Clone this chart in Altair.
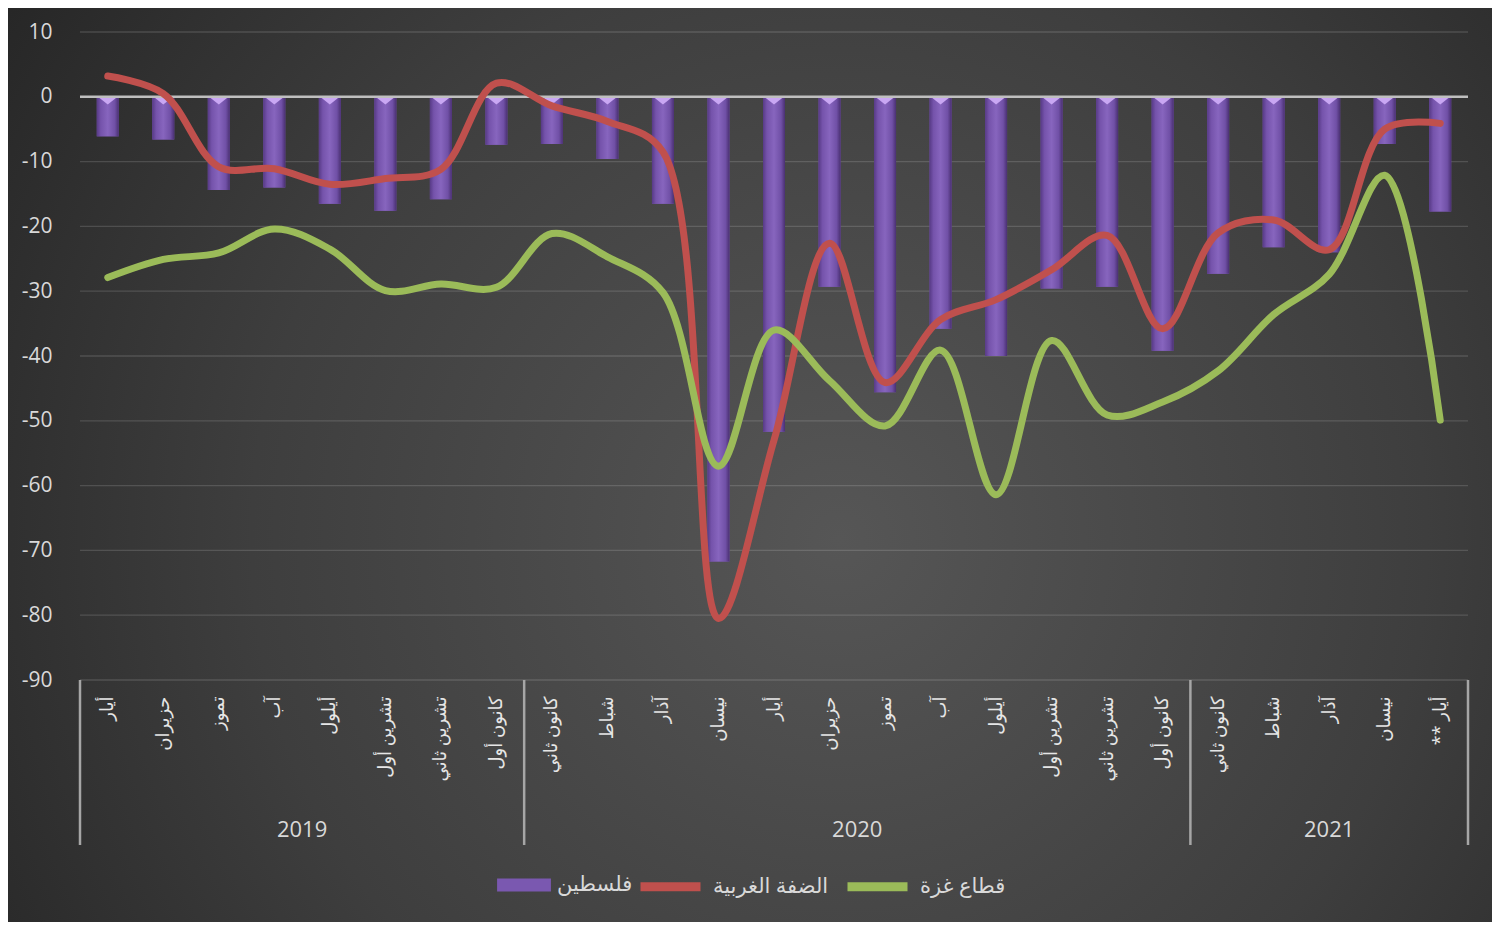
import json
import altair as alt
import pandas as pd

# ---------------- data ----------------
months = ["أيار", "حزيران", "تموز", "آب", "أيلول", "تشرين أول", "تشرين ثاني", "كانون أول",
          "كانون ثاني", "شباط", "آذار", "نيسان", "أيار", "حزيران", "تموز", "آب", "أيلول",
          "تشرين أول", "تشرين ثاني", "كانون أول",
          "كانون ثاني", "شباط", "آذار", "نيسان", "أيار **\u200f"]
years = ["2019", "2020", "2021"]
year_counts = [8, 12, 5]

palestine = [-6.1, -6.6, -14.4, -14.0, -16.5, -17.6, -15.8, -7.4,
             -7.3, -9.6, -16.5, -71.7, -51.7, -29.3, -45.6, -35.8, -40.0, -29.6, -29.3, -39.2,
             -27.3, -23.2, -24.0, -7.3, -17.7]
west_bank = [3.2, 0.5, -10.8, -11.1, -13.5, -12.6, -11.2, 2.1,
             -1.4, -3.8, -8.5, -80.5, -53.0, -22.6, -44.1, -34.4, -31.3, -26.7, -21.4, -35.8,
             -21.0, -19.0, -23.6, -5.0, -4.1]
gaza = [-27.9, -25.1, -24.1, -20.4, -23.5, -29.9, -28.9, -29.4,
        -21.1, -24.7, -30.2, -57.0, -36.0, -43.8, -50.8, -39.1, -61.4, -37.6, -49.1, -47.1,
        -42.3, -33.6, -27.4, -12.1, -49.9]

name_pal = "فلسطين"
name_wb = "الضفة الغربية"
name_gz = "قطاع غزة"

y_ticks = list(range(-90, 11, 10))

# ---------------- tables ----------------
n = len(months)
idx = list(range(n))
bars_df = pd.DataFrame({"idx": idx, "pal": palestine, "s": [name_pal] * n})
lines_df = pd.DataFrame({
    "idx": idx + idx,
    "v": west_bank + gaza,
    "series": [name_wb] * n + [name_gz] * n,
})

bounds = [-0.5]
centers = []
start = 0
for c in year_counts:
    centers.append(start + (c - 1) / 2)
    start += c
    bounds.append(start - 0.5)
sep_df = pd.DataFrame({"idx": bounds})
year_df = pd.DataFrame({"idx": centers, "year": years})
grid_df = pd.DataFrame({"t": y_ticks})

FONT = "Open Sans, DejaVu Sans, sans-serif"
TXT = "#d9d9d9"

label_expr = "[" + ",".join(json.dumps(m, ensure_ascii=False) for m in months) + "][datum.value]"

xscale = alt.Scale(domain=[-0.5, n - 0.5], nice=False, zero=False, padding=0)
yscale = alt.Scale(domain=[-90, 10], nice=False, padding=0)

x_axis = alt.Axis(values=idx, labelExpr=label_expr, labelAngle=270, labelAlign="right",
                  labelBaseline="middle", labelFontSize=18, labelColor="#e6e6e6",
                  labelFont=FONT, labelPadding=16, domain=False, ticks=False, grid=False,
                  title=None, labelOverlap=False, labelFlush=False, labelLimit=300, zindex=1)
y_axis = alt.Axis(values=y_ticks, labelExpr="'' + datum.value", grid=False, domain=False,
                  ticks=False, labelFontSize=21, labelColor=TXT, labelFont=FONT,
                  labelPadding=28, title=None, zindex=1, labelFlush=False)


def X(field):
    return alt.X(field, scale=xscale, axis=x_axis, title=None)


def Y(field):
    return alt.Y(field, scale=yscale, axis=y_axis, title=None)


bg_grad = {"gradient": "radial", "x1": 0.56, "y1": 0.55, "r1": 0,
           "x2": 0.56, "y2": 0.55, "r2": 0.72,
           "stops": [{"offset": 0, "color": "#565656"},
                     {"offset": 0.55, "color": "#3e3e3e"},
                     {"offset": 1, "color": "#222222"}]}

bar_grad = {"gradient": "linear", "x1": 0, "y1": 0, "x2": 1, "y2": 0,
            "stops": [{"offset": 0, "color": "#573a86"},
                      {"offset": 0.18, "color": "#7553ab"},
                      {"offset": 0.5, "color": "#8765be"},
                      {"offset": 0.82, "color": "#7050a6"},
                      {"offset": 1, "color": "#4a3072"}]}

bg = alt.Chart(pd.DataFrame({"a": [0]})).mark_rect(color=bg_grad).encode(
    x=alt.value(-72), x2=alt.value(1412), y=alt.value(-24), y2=alt.value(890))

grid = alt.Chart(grid_df).mark_rule(color="#ffffff", opacity=0.14, strokeWidth=1.3).encode(
    y=Y("t:Q"))

bars = alt.Chart(bars_df).mark_bar(width=22).encode(
    x=X("idx:Q"),
    y=Y("pal:Q"),
    fill=alt.Fill("s:N", scale=alt.Scale(domain=[name_pal], range=["#7a58b0"]),
                  legend=alt.Legend(orient="none", legendX=417, legendY=826,
                                    direction="horizontal", title=None,
                                    symbolType="M-1,-0.24L1,-0.24L1,0.24L-1,0.24Z",
                                    symbolSize=2900, symbolStrokeWidth=0, symbolOpacity=1,
                                    labelFontSize=21, labelColor=TXT, labelFont=FONT,
                                    labelOffset=6)))

bars_shine = alt.Chart(bars_df).mark_bar(width=22, color=bar_grad).encode(
    x=X("idx:Q"), y=Y("pal:Q"))

tops = alt.Chart(bars_df).mark_point(shape="M-1,0L1,0L0,0.8Z", size=380, filled=True,
                                     color="#c9a7f3", opacity=1).encode(
    x=X("idx:Q"), y=alt.datum(0))

zero = alt.Chart(pd.DataFrame({"z": [0]})).mark_rule(color="#bfbfbf", strokeWidth=2.5).encode(
    y=Y("z:Q"))

lines = alt.Chart(lines_df).mark_line(interpolate="catmull-rom", strokeWidth=7,
                                      strokeCap="round", strokeJoin="round").encode(
    x=X("idx:Q"),
    y=Y("v:Q"),
    stroke=alt.Stroke("series:N",
                      scale=alt.Scale(domain=[name_wb, name_gz], range=["#c0504d", "#9bbb59"]),
                      legend=alt.Legend(orient="none", legendX=556, legendY=820,
                                        direction="horizontal", title=None,
                                        symbolType="stroke", symbolSize=3600,
                                        symbolStrokeWidth=9, labelFontSize=21,
                                        labelColor=TXT, labelFont=FONT, labelOffset=8,
                                        columnPadding=0)))

seps = alt.Chart(sep_df).mark_rule(color="#a6a6a6", strokeWidth=2.5).encode(
    x=X("idx:Q"), y=alt.value(648), y2=alt.value(813))

year_text = alt.Chart(year_df).mark_text(fontSize=22, color=TXT, font=FONT).encode(
    x=X("idx:Q"), y=alt.value(798), text="year:N")

chart = alt.layer(bg, grid, bars, bars_shine, tops, zero, lines, seps, year_text).properties(
    width=1388, height=648,
    autosize=alt.AutoSizeParams(type="none"),
    padding={"left": 72, "top": 24, "right": 24, "bottom": 242},
    background="#262626",
).configure_view(stroke=None)

chart.save("out.html", embed_options={"renderer": "svg", "actions": False})
